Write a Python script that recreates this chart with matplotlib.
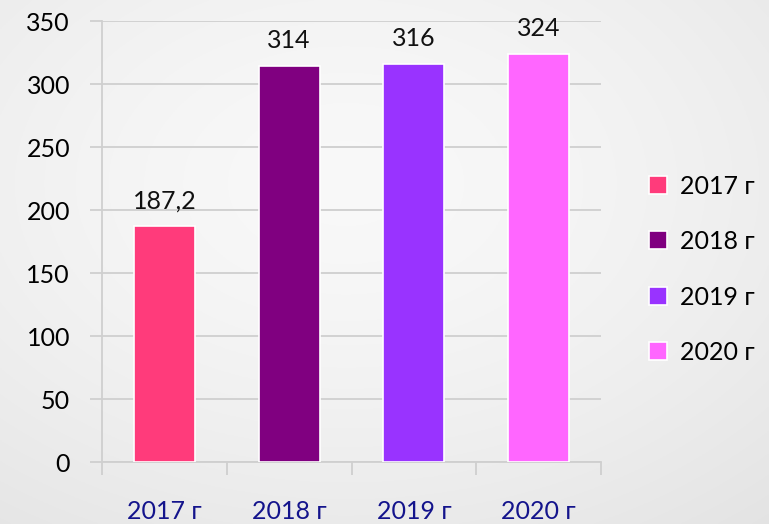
import numpy as np
import matplotlib

matplotlib.use("Agg")
import matplotlib.pyplot as plt

years = ["2017 г", "2018 г", "2019 г", "2020 г"]
values = [187.2, 314, 316, 324]
value_labels = ["187,2", "314", "316", "324"]
colors = ["#FF3B7B", "#800080", "#9933FF", "#FF66FF"]
yticks = [0, 50, 100, 150, 200, 250, 300, 350]

plt.rcParams["font.family"] = ["Lato", "DejaVu Sans"]

fig = plt.figure(figsize=(7.69, 5.24), dpi=100)

# soft radial background like the slide
bg = fig.add_axes([0, 0, 1, 1], zorder=-10)
yy, xx = np.mgrid[0:1:300j, 0:1:400j]
r = np.sqrt(((xx - 0.45) / 0.9) ** 2 + ((yy - 0.35) / 0.9) ** 2)
shade = 0.975 - 0.09 * np.clip(r, 0, 1) ** 1.5
bg.imshow(np.dstack([shade] * 3), aspect="auto", extent=[0, 1, 1, 0])
bg.axis("off")

ax = fig.add_axes([0.1326, 0.1183, 0.649, 0.8416])
ax.patch.set_alpha(0)
x = np.arange(len(years))
bars = ax.bar(x, values, width=0.49, color=colors, edgecolor="white",
              linewidth=1.2, zorder=3, label=years)
for b, lab in zip(bars, value_labels):
    ax.annotate(lab, (b.get_x() + b.get_width() / 2, b.get_height()),
                xytext=(0, 10), textcoords="offset points", ha="center",
                va="bottom", fontsize=18, color="#111111")

ax.set_xlim(-0.5, len(years) - 0.5)
ax.set_ylim(0, 350)
ax.set_yticks(yticks)
ax.set_yticklabels([str(t) for t in yticks], fontsize=18)
ax.set_xticks(x)
ax.set_xticklabels(years, fontsize=18, color="#14148C")
ax.tick_params(axis="x", length=0, pad=27)
ax.tick_params(axis="y", length=9, color="#CFCFCF", width=1.3, pad=14)
ax.set_xticks(np.arange(len(years) + 1) - 0.5, minor=True)
ax.tick_params(axis="x", which="minor", length=9, color="#CFCFCF", width=1.3)
ax.grid(axis="y", color="#CFCFCF", linewidth=1.3, zorder=0)
for s in ["top", "right"]:
    ax.spines[s].set_visible(False)
for s in ["left", "bottom"]:
    ax.spines[s].set_color("#CFCFCF")
    ax.spines[s].set_linewidth(1.3)

ax.legend(loc="center left", bbox_to_anchor=(1.05, 0.437), frameon=False,
          fontsize=18, handlelength=0.75, handleheight=0.75, labelspacing=1.3,
          handletextpad=0.5)

fig.savefig("out.png", dpi=100)
